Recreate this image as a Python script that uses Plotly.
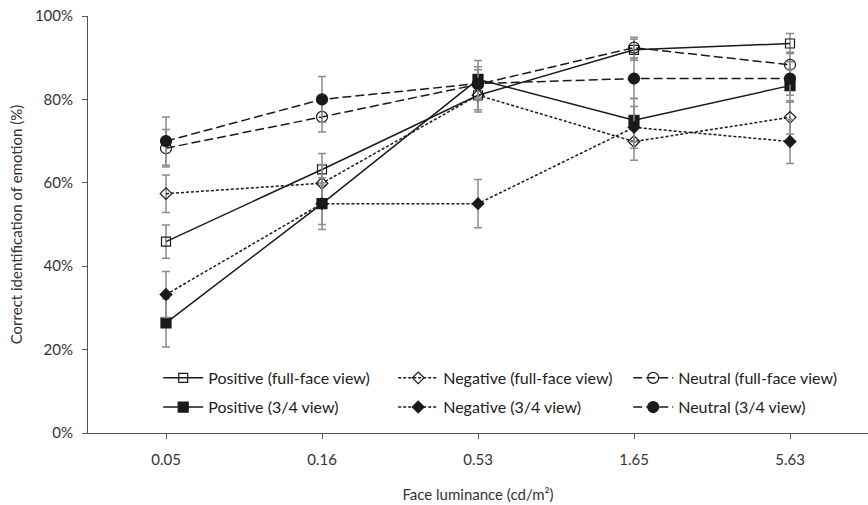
import plotly.graph_objects as go

luminance = ["0.05", "0.16", "0.53", "1.65", "5.63"]

pos_full = [45.9, 63.2, 81.0, 91.9, 93.4]
neg_full = [57.4, 59.9, 81.0, 69.9, 75.7]
neu_full = [68.3, 75.8, 83.6, 92.4, 88.3]
pos_34 = [26.4, 55.0, 84.8, 75.0, 83.3]
neg_34 = [33.2, 55.0, 55.0, 73.3, 69.9]
neu_34 = [70.0, 80.0, 83.8, 85.0, 85.0]

err_pos_full = [4.0, 3.8, 3.5, 2.5, 2.4]
err_neg_full = [4.5, 4.5, 4.0, 4.5, 4.0]
err_neu_full = [4.5, 3.6, 3.5, 2.5, 3.0]
err_pos_34 = [5.8, 6.2, 4.5, 5.2, 4.0]
err_neg_34 = [5.5, 5.0, 5.8, 5.0, 5.3]
err_neu_34 = [5.8, 5.5, 4.0, 4.8, 4.0]

names = [
    "Positive (full-face view)", "Negative (full-face view)", "Neutral (full-face view)",
    "Positive (3/4 view)", "Negative (3/4 view)", "Neutral (3/4 view)",
]

series = [pos_full, neg_full, neu_full, pos_34, neg_34, neu_34]
errors = [err_pos_full, err_neg_full, err_neu_full, err_pos_34, err_neg_34, err_neu_34]
dashes = ["solid", "3px,2px", "9px,4px", "solid", "3px,2px", "9px,4px"]
symbols = ["square-open", "diamond-open", "circle-open", "square", "diamond", "circle"]
sizes = [9, 9, 11, 10, 9, 11]
legends = ["legend", "legend", "legend", "legend2", "legend2", "legend2"]

fig = go.Figure()
for name, vals, err, dash, sym, sz, lg in zip(names, series, errors, dashes, symbols, sizes, legends):
    fig.add_trace(go.Scatter(
        x=luminance, y=[v / 100 for v in vals],
        name=name, mode="lines+markers",
        line=dict(color="#1a1a1a", width=1.5, dash=dash),
        marker=dict(symbol=sym, size=sz, color="#1a1a1a",
                    line=dict(color="#1a1a1a", width=1.2)),
        error_y=dict(type="data", array=[e / 100 for e in err], visible=True,
                     color="#8c8c8c", thickness=1.5, width=4),
        legend=lg,
    ))

font_family = "Lato"
leg_common = dict(orientation="h", bgcolor="rgba(0,0,0,0)", font=dict(size=16, color="#222"),
                  entrywidth=180, entrywidthmode="pixels", xanchor="left", yanchor="middle",
                  tracegroupgap=0, itemwidth=40)

fig.update_layout(
    width=868, height=505,
    margin=dict(l=88, r=0, t=16, b=72),
    paper_bgcolor="white", plot_bgcolor="white",
    font=dict(family=font_family, size=16, color="#333"),
    showlegend=True,
    legend=dict(x=0.09, y=0.132, **leg_common),
    legend2=dict(x=0.09, y=0.062, **leg_common),
    xaxis=dict(
        type="category", range=[-0.5, 4.5],
        showline=True, linecolor="#555", linewidth=1,
        ticks="outside", ticklen=5, tickcolor="#555",
        showgrid=False, zeroline=False,
        tickfont=dict(size=15, color="#333"), ticklabelstandoff=8,
        title=dict(text="Face luminance (cd/m²)", font=dict(size=15, color="#333"), standoff=22),
    ),
    yaxis=dict(
        range=[0, 1], tickvals=[0, 0.2, 0.4, 0.6, 0.8, 1.0], tickformat=".0%",
        showline=True, linecolor="#555", linewidth=1,
        ticks="outside", ticklen=5, tickcolor="#555",
        showgrid=False, zeroline=False,
        tickfont=dict(size=15, color="#333"), ticklabelstandoff=6,
        title=dict(text="Correct identification of emotion (%)", font=dict(size=15, color="#333"), standoff=8),
    ),
)

fig.write_html("out.html")
